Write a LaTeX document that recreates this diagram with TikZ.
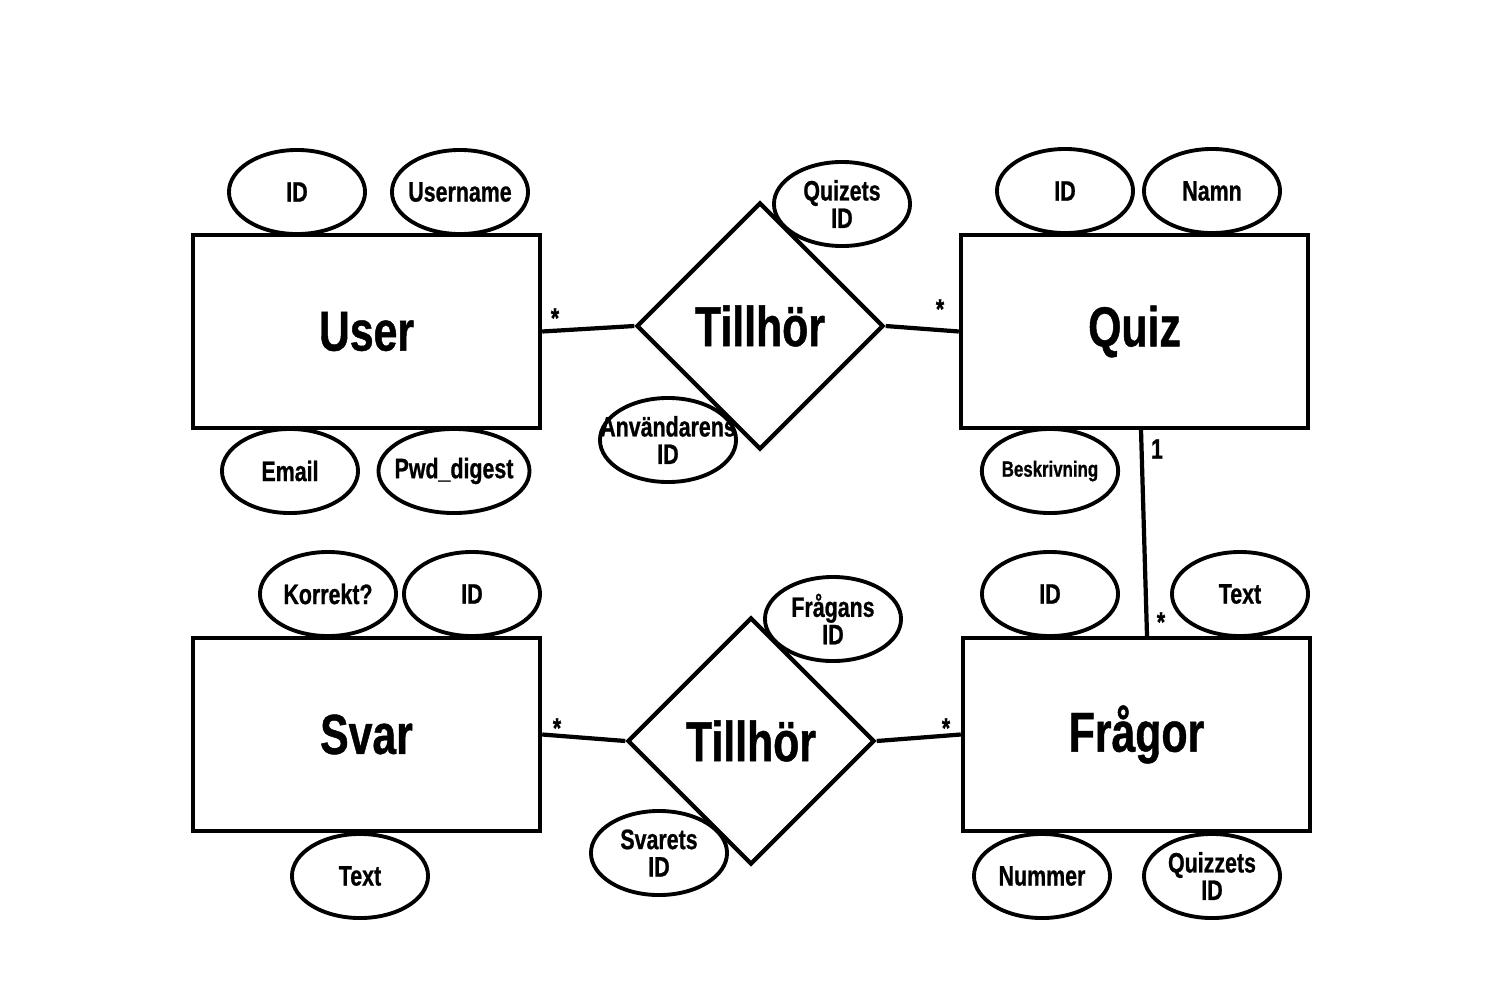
\documentclass[tikz,border=0pt]{standalone}
\usepackage{fontspec}
\setmainfont{Liberation Sans}[FakeStretch=0.76,BoldFeatures={FakeBold=0.8}]
\usetikzlibrary{shapes.geometric}
\begin{document}
\begin{tikzpicture}[
    x=0.01cm, y=-0.01cm,
    font=\bfseries,
    entitet/.style={rectangle,draw,line width=1.2pt,fill=white,
                    minimum width=3.47cm,minimum height=1.93cm,
                    font=\bfseries\fontsize{16}{16}\selectfont},
    relation/.style={diamond,draw,line width=1.2pt,fill=white,aspect=1,
                     inner sep=0pt,minimum size=2.47cm,
                     font=\bfseries\fontsize{16}{16}\selectfont},
    attribut/.style={ellipse,draw,line width=1.1pt,fill=white,
                     inner sep=0pt,minimum width=1.36cm,minimum height=0.84cm,
                     align=center,font=\bfseries\fontsize{8}{7.8}\selectfont},
    tvarad/.style={attribut,inner ysep=-0.12cm},
    linje/.style={line width=1.2pt},
    kard/.style={font=\bfseries\fontsize{8}{8}\selectfont,inner sep=0pt}]

  \useasboundingbox[fill=white] (0,0) rectangle (1500,1000);

  % entiteter
  \node[entitet] (user)   at (366.5,331.5) {User};
  \node[entitet] (quiz)   at (1134.5,331.5) {Quiz};
  \node[entitet] (svar)   at (366.5,734.5) {Svar};
  \node[entitet] (fragor) at (1136.5,734.5) {Frågor};

  % relationer
  \node[relation] (rel1) at (760,326) {Tillhör};
  \node[relation] (rel2) at (751,741) {Tillhör};

  % linjer
  \draw[linje] (user.east) -- (rel1.west);
  \draw[linje] (rel1.east) -- (quiz.west);
  \draw[linje] (svar.east) -- (rel2.west);
  \draw[linje] (rel2.east) -- (fragor.west);
  \draw[linje] ([xshift=0.065cm]quiz.south) -- ([xshift=0.105cm]fragor.north);

  % attribut
  \node[attribut] (userid)   at (297,192) {ID};
  \node[attribut,inner xsep=-0.05cm] (username) at (460,192) {Username};
  \node[attribut] (email)    at (290,471) {Email};
  \node[attribut,inner xsep=-0.06cm] (pwd) at (454,471) {Pwd\_digest};

  \node[tvarad] (quizetsid) at (842,204) {Quizets\\ID};
  \node[tvarad,inner xsep=-0.2cm] (anvid) at (668,440) {Användarens\\ID};

  \node[attribut] (quizid)  at (1065,191) {ID};
  \node[attribut] (namn)    at (1212,191) {Namn};
  \node[attribut,font=\bfseries\fontsize{6.3}{7}\selectfont] (beskr) at (1050,471) {Beskrivning};

  \node[attribut] (korrekt) at (328,594) {Korrekt?};
  \node[attribut] (svarid)  at (472,594) {ID};
  \node[attribut] (svartext) at (360,876) {Text};

  \node[tvarad] (fragansid) at (833,619) {Frågans\\ID};
  \node[tvarad] (svaretsid) at (659,853) {Svarets\\ID};

  \node[attribut] (fragorid)   at (1050,594) {ID};
  \node[attribut] (fragortext) at (1240,594) {Text};
  \node[attribut] (nummer)     at (1042,876) {Nummer};
  \node[tvarad] (quizzetsid)   at (1212,876) {Quizzets\\ID};

  % kardinalitet
  \node[kard] at (555,318) {*};
  \node[kard] at (940,309) {*};
  \node[kard] at (1157,449) {1};
  \node[kard] at (1161,622) {*};
  \node[kard] at (557,728) {*};
  \node[kard] at (946,728) {*};

\end{tikzpicture}
\end{document}
